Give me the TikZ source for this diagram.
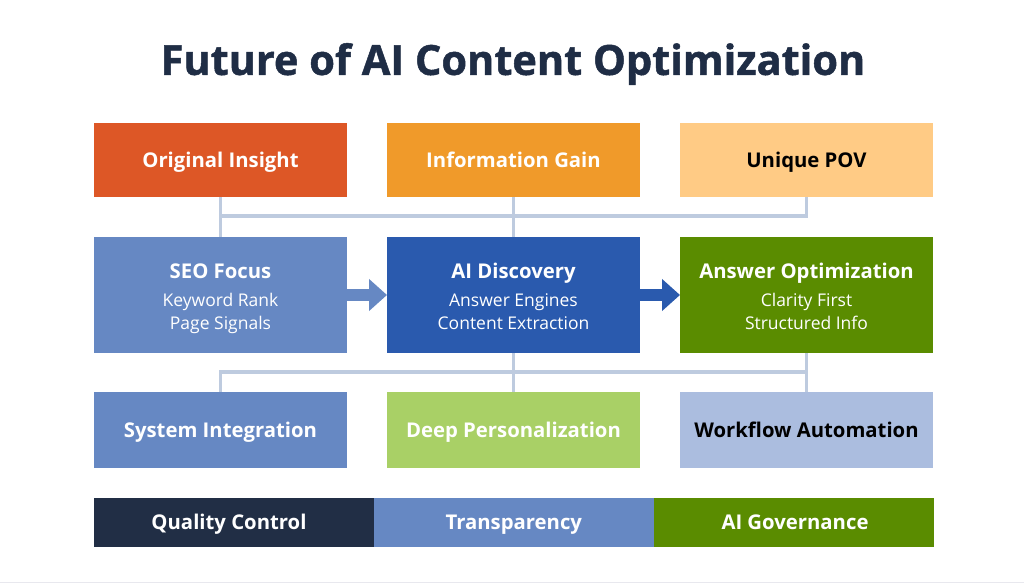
\documentclass[tikz,border=0pt]{standalone}
\usepackage{fontspec}
\setmainfont{Open Sans}
\newfontfamily\medfont{Open Sans Bold}
\newfontfamily\subfont{Open Sans}
\newfontfamily\titlefont[FakeBold=1.2]{Open Sans Bold}
\usetikzlibrary{arrows.meta,calc}

\definecolor{titleink}{HTML}{1F2D45}
\definecolor{insightred}{HTML}{DD5726}
\definecolor{gainorange}{HTML}{F09A2A}
\definecolor{povsand}{HTML}{FFCB85}
\definecolor{seoblue}{HTML}{6688C3}
\definecolor{aiblue}{HTML}{2A5AAE}
\definecolor{answergreen}{HTML}{5A8C00}
\definecolor{deepgreen}{HTML}{A9D066}
\definecolor{flowblue}{HTML}{ABBDDF}
\definecolor{navyband}{HTML}{212E45}
\definecolor{busgrey}{HTML}{BECBDF}
\definecolor{stripgrey}{HTML}{E8E8EE}

\begin{document}
\begin{tikzpicture}[x=1pt,y=-1pt,
    head/.style={text=white,inner sep=0pt,text height=14.5pt,text depth=0pt,font=\medfont\fontsize{20.3}{24}\selectfont},
    sub/.style={text=white,inner sep=0pt,align=center,text height=35pt,text depth=0pt,font=\subfont\fontsize{17.5}{23}\selectfont},
    box/.style={head,fill=#1,outer sep=0pt,minimum width=253pt},
    tallbox/.style={box=#1,minimum height=116pt},
    topbox/.style={box=#1,minimum height=74pt},
    lowbox/.style={box=#1,minimum height=76pt},
    bandbox/.style={head,fill=#1,outer sep=0pt,minimum height=49pt},
    bus/.style={busgrey,line width=3.5pt},
    flow/.style={-{Triangle[length=18pt,width=31pt]},line width=12pt}]
    \useasboundingbox (0,0) rectangle (1024,583);
    \fill[white] (0,0) rectangle (1024,583);
    \fill[stripgrey] (0,581.5) rectangle (1024,583);

    % Title
    \node[text=titleink,inner sep=0pt,font=\titlefont\fontsize{41.5}{50}\selectfont] (title) at (513,64) {Future of AI Content Optimization};

    % Bus coordinates
    \coordinate (busup1) at (220.5,216);
    \coordinate (buslow3) at (806.5,372);

    % Top row
    \node[topbox=insightred] (insight) at (220.5,160) {Original Insight};
    \node[topbox=gainorange] (gain) at (513.5,160) {Information Gain};
    \node[topbox=povsand,text=black] (pov) at (806.5,160) {Unique POV};

    % Middle row
    \node[tallbox=seoblue] (seo) at (220.5,295) {};
    \node[tallbox=aiblue] (discovery) at (513.5,295) {};
    \node[tallbox=answergreen] (answer) at (806.5,295) {};
    \node[head] (seohead) at (220.5,271) {SEO Focus};
    \node[sub] (seosub) at (220.5,312) {Keyword Rank\\Page Signals};
    \node[head] (discoveryhead) at (513.5,271) {AI Discovery};
    \node[sub] (discoverysub) at (513.5,312) {Answer Engines\\Content Extraction};
    \node[head] (answerhead) at (806.5,271) {Answer Optimization};
    \node[sub] (answersub) at (806.5,312) {Clarity First\\Structured Info};

    % Lower row
    \node[lowbox=seoblue] (system) at (220.5,430) {System Integration};
    \node[lowbox=deepgreen] (personal) at (513.5,430) {Deep Personalization};
    \node[lowbox=flowblue,text=black] (workflow) at (806.5,430) {Workflow Automation};

    % Bottom band
    \node[bandbox=navyband,minimum width=279.5pt] (quality) at (233.75,522.5) {};
    \node[bandbox=seoblue,minimum width=280.5pt,anchor=west] (transparency) at (quality.east) {Transparency};
    \node[bandbox=answergreen,minimum width=280pt,anchor=west] (governance) at (transparency.east) {};
    \node[head] (qualitytext) at (229,522.5) {Quality Control};
    \node[head] (governancetext) at (795,522.5) {AI Governance};

    % Buses
    \draw[bus] (insight.south) -- (seo.north);
    \draw[bus] (gain.south) -- (discovery.north);
    \draw[bus] (pov.south) |- (busup1);
    \draw[bus] (system.north) |- (buslow3);
    \draw[bus] (discovery.south) -- (personal.north);
    \draw[bus] (answer.south) -- (workflow.north);

    % Arrows
    \draw[flow,seoblue] (seo.east) -- (discovery.west);
    \draw[flow,aiblue] (discovery.east) -- (answer.west);
\end{tikzpicture}
\end{document}
